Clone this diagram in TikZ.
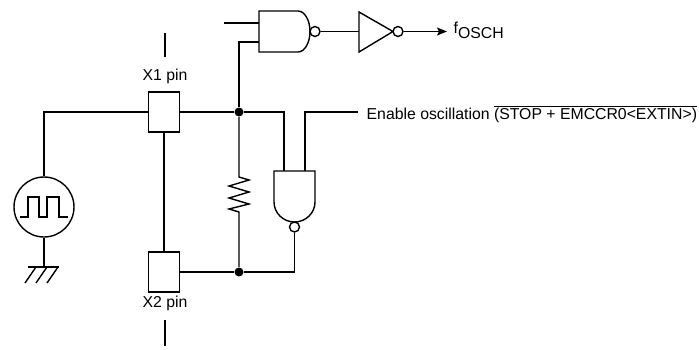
\documentclass[tikz,border=0pt]{standalone}
\usepackage{fontspec}
\setmainfont{Liberation Sans}
\usetikzlibrary{arrows.meta}
\begin{document}
\begin{tikzpicture}[x=1pt,y=-1pt, line width=1.4pt,
  pinbox/.style={draw, line width=1.4pt, minimum width=31pt, minimum height=40pt, inner sep=0pt},
  jdot/.style={circle, fill, inner sep=0pt, minimum size=9pt},
  bubble/.style={circle, draw, fill=white, inner sep=0pt, minimum size=10pt, line width=1.4pt},
  lbl/.style={font=\fontsize{15.8}{18}\selectfont, inner sep=0pt}]
\useasboundingbox (0,0) rectangle (699,349);

% pins
\node[pinbox] (x1) at (164,112) {};
\node[pinbox] (x2) at (164,272) {};
\node[lbl, anchor=base] (x1l) at (165,80) {X1 pin};
\node[lbl, anchor=base] (x2l) at (165,307) {X2 pin};
\coordinate (t1a) at (165,33);
\coordinate (t1b) at (165,57);
\coordinate (t2a) at (165,320);
\coordinate (t2b) at (165,346);
\draw (t1a) -- (t1b);
\draw (t2a) -- (t2b);

% junctions
\node[jdot] (d1) at (239,112) {};
\node[jdot] (d2) at (239,272) {};

% source
\node[circle, draw, minimum size=60pt, inner sep=0pt] (src) at (44,207) {};
\draw (20,217) -- (28,217) -- (28,197) -- (39,197) -- (39,217) -- (47,217)
      -- (47,197) -- (59,197) -- (59,217) -- (68,217);
\coordinate (gnd) at (44,267);
\draw (x1.west) -| (src.north);
\draw (src.south) -- (gnd);
\draw (28,267) -- (59,267);
\draw (36,267) -- (25,283);
\draw (47,267) -- (36,283);
\draw (58,267) -- (47,283);

% wires between pins and junctions
\draw (x1.south) -- (x2.north);
\draw (x1.east) -- (d1);
\draw (x2.east) -- (d2);

% NAND 1
\draw (298,11) -- (259,11) -- (259,52) -- (298,52)
  .. controls (304.6,52) and (310,42.8) .. (310,31.5)
  .. controls (310,20.2) and (304.6,11) .. (298,11);
\coordinate (n1a) at (259,23);
\coordinate (n1b) at (259,42);
\coordinate (in1) at (224,23);
\draw (in1) -- (n1a);
\draw (n1b) -| (d1);
\node[bubble] (b1) at (315,31.5) {};

% inverter
\coordinate (inv) at (359,31.5);
\draw (b1.east) -- (inv);
\draw (359,12) -- (359,52) -- (393,31.5) -- cycle;
\node[bubble] (b2) at (398,31.5) {};
\coordinate (fend) at (447,31.5);
\draw[-{Stealth[length=10pt,width=8pt,inset=2pt]}] (b2.east) -- (fend);
\node[lbl, anchor=base west] (fo) at (453,33) {f\raisebox{-5pt}{OSCH}};

% resistor
\coordinate (rt) at (239,177);
\coordinate (rb) at (239,212);
\draw (d1) -- (rt) -- (249,180) -- (229,186) -- (249,192) -- (229,198)
      -- (249,204) -- (229,209) -- (rb) -- (d2);

% NAND 2 (pointing down)
\draw (274,202) -- (274,171) -- (315,171) -- (315,202)
  .. controls (315,213) and (305.8,222) .. (294.5,222)
  .. controls (283.2,222) and (274,213) .. (274,202);
\coordinate (n2a) at (284,171);
\coordinate (n2b) at (305,171);
\node[bubble] (b3) at (294.5,227) {};
\draw (d1) -| (n2a);
\coordinate (en) at (358,112);
\draw (n2b) |- (en);
\draw (b3.south) |- (d2);

\node[lbl, anchor=base west] (entxt) at (366,119)
  {Enable oscillation $\overline{\hbox{(STOP + EMCCR0<EXTIN>)}}$};
\end{tikzpicture}
\end{document}
